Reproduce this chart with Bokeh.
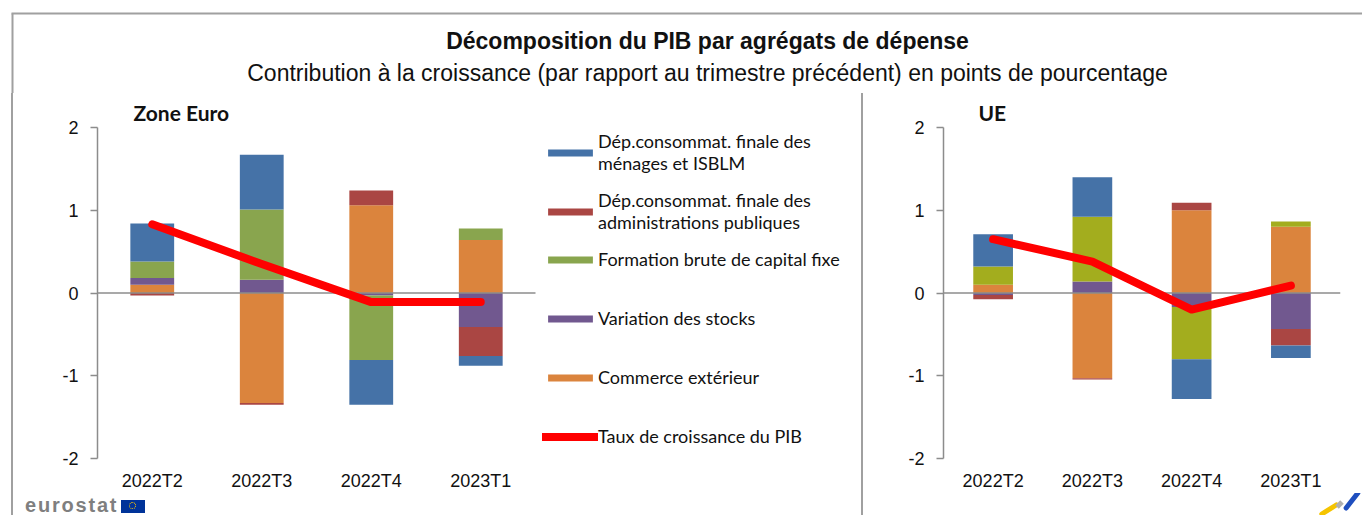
import numpy as np
from bokeh.plotting import figure
from bokeh.models import (Range1d, FixedTicker, Legend, LegendItem, Label, Spacer, Div)
from bokeh.layouts import row, column
from bokeh.embed import file_html
from bokeh.resources import INLINE

# ---------------- data ----------------
quarters = ["2022T2", "2022T3", "2022T4", "2023T1"]

lab_menages = "Dép.consommat. finale des\nménages et ISBLM"
lab_admin = "Dép.consommat. finale des\nadministrations publiques"
lab_fbcf = "Formation brute de capital fixe"
lab_stocks = "Variation des stocks"
lab_commerce = "Commerce extérieur"
lab_pib = "Taux de croissance du PIB"

# Zone Euro
ez_menages = [0.46, 0.66, -0.54, -0.12]
ez_admin = [-0.03, -0.02, 0.18, -0.35]
ez_fbcf = [0.20, 0.85, -0.78, 0.14]
ez_stocks = [0.08, 0.16, -0.03, -0.41]
ez_commerce = [0.10, -1.33, 1.06, 0.64]
ez_pib = [0.83, 0.35, -0.11, -0.11]

# UE
ue_menages = [0.39, 0.48, -0.48, -0.15]
ue_admin = [-0.05, -0.015, 0.09, -0.20]
ue_fbcf = [0.22, 0.78, -0.63, 0.065]
ue_stocks = [-0.025, 0.14, -0.17, -0.435]
ue_commerce = [0.10, -1.03, 1.00, 0.80]
ue_pib = [0.65, 0.38, -0.20, 0.09]

y_ticks = [-2, -1, 0, 1, 2]

# ---------------- style ----------------
C_BLUE = "#4572A7"
C_RED = "#AA4643"
C_GREEN_EZ = "#89A54E"
C_GREEN_UE = "#A3AD1E"
C_PURPLE = "#71588F"
C_ORANGE = "#DB843D"
C_LINE = "#FF0000"
GRAY = "#8C8C8C"
FRAME_GRAY = "#A0A0A0"
TICK_FONT = "Liberation Sans"
TXT = "#111111"
HDR_W, HDR_H = 1362, 93
FULL_H = 515 - HDR_H      # 422
STRIP_H = 22
CHART_H = FULL_H - STRIP_H  # 400
N = len(quarters)
xpos = np.arange(N) + 0.5   # category centres on the numeric x scale


def make_chart(title, menages, admin, fbcf, stocks, commerce, pib, green,
               width, height, border_left, border_right, x_end, title_offset,
               with_legend):
    p = figure(x_range=Range1d(0, x_end), y_range=Range1d(-2, 2), width=width,
               height=height, output_backend="svg", toolbar_location=None,
               min_border_left=border_left, min_border_right=border_right,
               min_border_top=34, min_border_bottom=height - 34 - 332)
    p.outline_line_color = None
    p.xgrid.visible = False
    p.ygrid.visible = False
    p.background_fill_color = "white"
    p.border_fill_color = "white"

    # stacked bars: bottom-up order
    stack = [(lab_commerce, commerce, C_ORANGE), (lab_stocks, stocks, C_PURPLE),
             (lab_fbcf, fbcf, green), (lab_admin, admin, C_RED),
             (lab_menages, menages, C_BLUE)]
    pos = np.zeros(N)
    neg = np.zeros(N)
    rends = {}
    for name, vals, color in stack:
        v = np.array(vals, dtype=float)
        bottom = np.where(v >= 0, pos, neg)
        top = bottom + v
        pos = np.where(v >= 0, top, pos)
        neg = np.where(v < 0, top, neg)
        rends[name] = p.vbar(x=xpos, bottom=bottom, top=top, width=0.4,
                             fill_color=color, line_color=None)
    # zero reference line across the category area
    p.segment(x0=[0], x1=[N], y0=[0], y1=[0], line_color=GRAY, line_width=1.5)
    rends[lab_pib] = p.line(x=xpos, y=pib, line_color=C_LINE, line_width=8,
                            line_cap="round", line_join="round")

    # axes
    ya = p.yaxis[0]
    ya.ticker = FixedTicker(ticks=y_ticks)
    ya.major_label_overrides = {t: str(t) for t in y_ticks}
    ya.axis_line_color = GRAY
    ya.axis_line_width = 1.5
    ya.major_tick_line_color = GRAY
    ya.major_tick_line_width = 1.5
    ya.major_tick_out = 7
    ya.major_tick_in = 0
    ya.minor_tick_line_color = None
    ya.major_label_standoff = 12
    ya.major_label_text_font = TICK_FONT
    ya.major_label_text_font_size = "18px"
    ya.major_label_text_color = TXT

    xa = p.xaxis[0]
    xa.ticker = FixedTicker(ticks=list(xpos))
    xa.major_label_overrides = {float(x): q for x, q in zip(xpos, quarters)}
    xa.axis_line_color = None
    xa.major_tick_line_color = None
    xa.minor_tick_line_color = None
    xa.major_label_standoff = 6
    xa.major_label_text_font = TICK_FONT
    xa.major_label_text_font_size = "18px"
    xa.major_label_text_color = TXT

    p.title.text = title
    p.title.align = "left"
    p.title.offset = title_offset
    p.title.standoff = 6
    p.title.text_font = "Lato"
    p.title.text_font_style = "bold"
    p.title.text_font_size = "21px"
    p.title.text_color = TXT

    if with_legend:
        common = dict(orientation="vertical", label_text_font="Lato",
                      label_text_font_size="18px", label_text_color=TXT,
                      glyph_width=56, glyph_height=9, label_standoff=0,
                      padding=0, margin=0, border_line_color=None,
                      background_fill_alpha=0)
        top_items = [LegendItem(label=n, renderers=[rends[n]])
                     for n in [lab_menages, lab_admin]]
        bot_items = [LegendItem(label=n, renderers=[rends[n]])
                     for n in [lab_fbcf, lab_stocks, lab_commerce, lab_pib]]
        # location = (x of left edge, y of bottom edge) from the frame's bottom-left
        leg1 = Legend(items=top_items, location=(445, 225), spacing=15,
                      label_height=44, **common)
        leg2 = Legend(items=bot_items, location=(445, 11), spacing=37,
                      label_height=22, **common)
        p.add_layout(leg1)
        p.add_layout(leg2)
    return p


# left chart: frame from x=97 to the separator, category pitch 109.5 px
left = make_chart("Zone Euro", ez_menages, ez_admin, ez_fbcf, ez_stocks, ez_commerce,
                  ez_pib, C_GREEN_EZ, width=848, height=CHART_H, border_left=84,
                  border_right=0, x_end=764 / 109.5, title_offset=36, with_legend=True)
# right chart: frame 397 px wide, category pitch ~99 px
right = make_chart("UE", ue_menages, ue_admin, ue_fbcf, ue_stocks, ue_commerce,
                   ue_pib, C_GREEN_UE, width=499, height=CHART_H,
                   border_left=80, border_right=22, x_end=N, title_offset=35,
                   with_legend=False)

# eurostat logo strip (decoration, HTML)
logo_html = (
    '<div style="position:relative;width:848px;height:22px;overflow:hidden;">'
    '<span style="position:absolute;left:12px;top:1px;font-family:\'Liberation Sans\';'
    'font-weight:bold;font-size:20px;line-height:22px;letter-spacing:1.8px;'
    'color:#7F7F7F;">eurostat</span>'
    '<span style="position:absolute;left:108px;top:7px;width:24px;height:13px;'
    'background:#003399;"></span>'
    '<span style="position:absolute;left:116px;top:9px;width:7px;height:7px;'
    'border:1px dotted #FFCC00;border-radius:50%;"></span>'
    '</div>')
strip_left = Div(text=logo_html, width=848, height=STRIP_H, margin=0)

# small corner mark at the bottom right (decoration, HTML)
corner_html = (
    '<div style="position:relative;width:499px;height:22px;overflow:hidden;">'
    '<span style="position:absolute;left:455px;top:14px;width:22px;height:5px;'
    'background:#F5C400;border-radius:3px;transform:rotate(-32deg);"></span>'
    '<span style="position:absolute;left:473px;top:9px;width:7px;height:5px;'
    'background:#B0B0B0;transform:rotate(-45deg);"></span>'
    '<span style="position:absolute;left:477px;top:5px;width:24px;height:5px;'
    'background:#1F4FBF;border-radius:3px;transform:rotate(-52deg);"></span>'
    '</div>')
strip_right = Div(text=corner_html, width=499, height=STRIP_H, margin=0)

# header with titles and frame lines
hdr = figure(width=HDR_W, height=HDR_H, x_range=Range1d(0, HDR_W),
             y_range=Range1d(HDR_H, 0), output_backend="svg", toolbar_location=None,
             min_border=0, x_axis_location=None, y_axis_location=None)
hdr.outline_line_color = None
hdr.xgrid.visible = False
hdr.ygrid.visible = False
hdr.segment(x0=[11, 12], y0=[13, 13], x1=[HDR_W, 12], y1=[13, HDR_H],
            line_color=FRAME_GRAY, line_width=2)
hdr.add_layout(Label(x=707, y=40, text="Décomposition du PIB par agrégats de dépense",
                     text_font="Liberation Sans", text_font_style="bold",
                     text_font_size="23px", text_color=TXT,
                     text_align="center", text_baseline="middle"))
hdr.add_layout(Label(x=707, y=72,
                     text="Contribution à la croissance (par rapport au trimestre précédent) en points de pourcentage",
                     text_font="Liberation Sans", text_font_size="23px",
                     text_color=TXT, text_align="center", text_baseline="middle"))

frame_left = Spacer(width=2, height=FULL_H, styles={"background-color": FRAME_GRAY})
sep = Spacer(width=2, height=FULL_H, styles={"background-color": FRAME_GRAY})
layout = column(hdr, row(Spacer(width=11, height=FULL_H), frame_left,
                         column(left, strip_left), sep,
                         column(right, strip_right)))

open("out.html", "w").write(file_html(layout, INLINE))
